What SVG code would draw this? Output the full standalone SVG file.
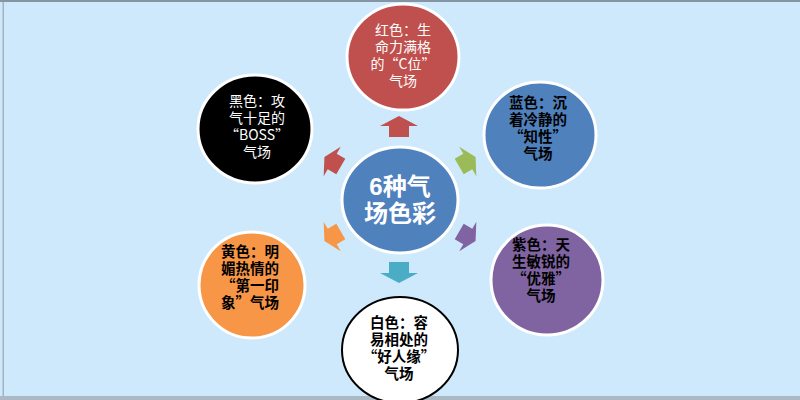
<svg xmlns="http://www.w3.org/2000/svg" width="800" height="400" viewBox="0 0 800 400">
<defs>
<style>
.lt{font-family:"Noto Sans CJK SC","Liberation Sans",sans-serif;font-size:14px;fill:#fff;text-anchor:middle}
.bd{font-family:"Noto Sans CJK SC","Liberation Serif",serif;font-size:14.5px;font-weight:bold;fill:#000;text-anchor:middle}
.ct{font-family:"Liberation Sans","Noto Sans CJK SC",sans-serif;font-size:24px;font-weight:bold;fill:#fff;text-anchor:middle}
.node{stroke:#fff;stroke-width:3}
</style>
<polygon id="arr" points="0,-11 19,-1 10,-1 10,10 -10,10 -10,-1 -19,-1"/>
</defs>
<rect x="0" y="0" width="800" height="400" fill="#cde9fb"/>
<rect x="0" y="0" width="800" height="2" fill="#8595a3"/>
<rect x="2.5" y="2" width="1.5" height="394" fill="#a3b4c1"/>
<rect x="0" y="396" width="800" height="4" fill="#aab9c4"/>

<g id="connectors">
<use href="#arr" transform="translate(399,127)" fill="#c0504d"/>
<use href="#arr" transform="translate(399,272) rotate(180)" fill="#4bacc6"/>
<use href="#arr" transform="translate(467,162) rotate(60) scale(0.9)" fill="#9bbb59"/>
<use href="#arr" transform="translate(467,236) rotate(120) scale(0.9)" fill="#8064a2"/>
<use href="#arr" transform="translate(333,236) rotate(-120) scale(0.9)" fill="#f79646"/>
<use href="#arr" transform="translate(333,162) rotate(-60) scale(0.9)" fill="#c0504d"/>
</g>

<g id="center">
<ellipse class="node" cx="400" cy="200" rx="58" ry="53" fill="#4f81bd"/>
<text class="ct" x="400" y="195">6种气</text>
<text class="ct" x="400" y="222">场色彩</text>
</g>

<g id="red">
<ellipse class="node" cx="403" cy="57" rx="56" ry="53" fill="#c0504d"/>
<text class="lt" x="403" y="35">红色：生</text>
<text class="lt" x="403" y="52">命力满格</text>
<text class="lt" x="403" y="69">的“C位”</text>
<text class="lt" x="403" y="86">气场</text>
</g>

<g id="blue">
<ellipse class="node" cx="540" cy="135" rx="56" ry="53" fill="#4f81bd"/>
<text class="bd" x="538" y="108">蓝色：沉</text>
<text class="bd" x="538" y="125">着冷静的</text>
<text class="bd" x="538" y="142">“知性”</text>
<text class="bd" x="538" y="159">气场</text>
</g>

<g id="purple">
<ellipse class="node" cx="547" cy="280" rx="56" ry="55" fill="#8064a2"/>
<text class="bd" x="541" y="250">紫色：天</text>
<text class="bd" x="541" y="267">生敏锐的</text>
<text class="bd" x="541" y="284">“优雅”</text>
<text class="bd" x="541" y="301">气场</text>
</g>

<g id="white">
<ellipse cx="400" cy="350" rx="58" ry="53" fill="#fff" stroke="#000" stroke-width="2"/>
<text class="bd" x="399" y="328">白色：容</text>
<text class="bd" x="399" y="345">易相处的</text>
<text class="bd" x="399" y="362">“好人缘”</text>
<text class="bd" x="399" y="379">气场</text>
</g>

<g id="orange">
<ellipse class="node" cx="252" cy="285" rx="53" ry="53" fill="#f79646"/>
<text class="bd" x="250" y="257">黄色：明</text>
<text class="bd" x="250" y="274">媚热情的</text>
<text class="bd" x="250" y="291">“第一印</text>
<text class="bd" x="250" y="308">象”气场</text>
</g>

<g id="black">
<ellipse class="node" cx="255" cy="129" rx="57" ry="54" fill="#000"/>
<text class="lt" x="257" y="106">黑色：攻</text>
<text class="lt" x="257" y="123">气十足的</text>
<text class="lt" x="257" y="140">“BOSS”</text>
<text class="lt" x="257" y="157">气场</text>
</g>
</svg>
